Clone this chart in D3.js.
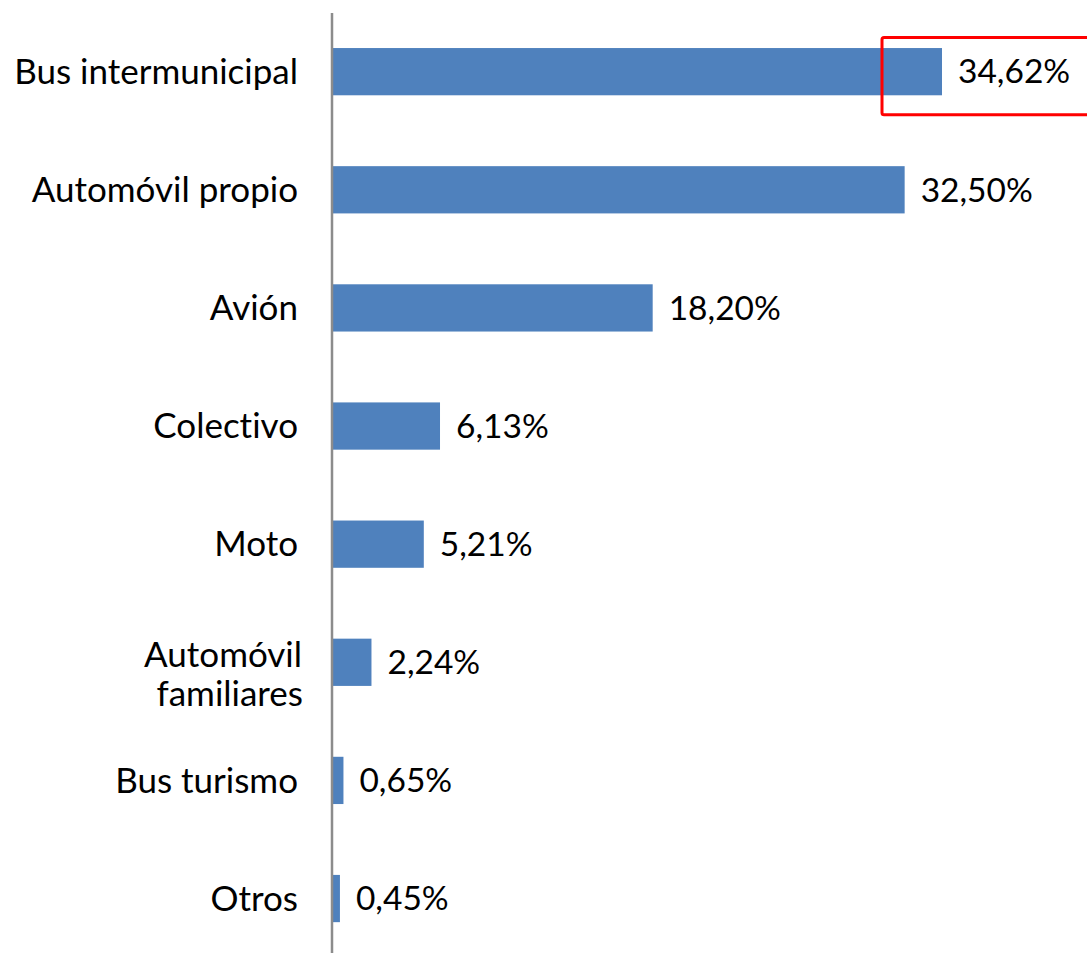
<!DOCTYPE html>
<html>
<head>
<meta charset="utf-8">
<script src="https://cdn.jsdelivr.net/npm/d3@7"></script>
<style>
	html, body { margin: 0; padding: 0; background: #fff; }
	svg { display: block; font-family: Lato, "Open Sans", sans-serif; font-variant-ligatures: none; }
</style>
</head>
<body>
<svg id="chart" width="1087" height="953"></svg>
<script>
const categories = [
	['Bus intermunicipal'],
	['Automóvil propio'],
	['Avión'],
	['Colectivo'],
	['Moto'],
	['Automóvil', 'familiares'],
	['Bus turismo'],
	['Otros']
];
const values = [34.62, 32.5, 18.2, 6.13, 5.21, 2.24, 0.65, 0.45];
const valueLabels = ['34,62%', '32,50%', '18,20%', '6,13%', '5,21%', '2,24%', '0,65%', '0,45%'];

const WIDTH = 1087;
const HEIGHT = 953;
const AXIS_X = 332;
const BAR_COLOR = '#4f81bd';
const CAT_SIZE = 35;
const VAL_SIZE = 33.5;
const LINE_H = 39;

const svg = d3.select('#chart');
const keys = categories.map(c => c.join(' '));

const x = d3.scaleLinear().domain([0, 40]).range([AXIS_X, AXIS_X + 40 * 17.62]);
const y = d3.scaleBand().domain(keys).range([12.6, 957.6]).paddingInner(0.6).paddingOuter(0.3);

const rows = keys.map((k, i) => ({ key: k, lines: categories[i], value: values[i], label: valueLabels[i] }));

// bars
svg.selectAll('rect.bar')
	.data(rows)
	.enter()
	.append('rect')
	.attr('class', 'bar')
	.attr('x', x(0))
	.attr('y', d => y(d.key))
	.attr('width', d => x(d.value) - x(0))
	.attr('height', y.bandwidth())
	.attr('fill', BAR_COLOR);

// value labels
svg.selectAll('text.value')
	.data(rows)
	.enter()
	.append('text')
	.attr('class', 'value')
	.attr('x', d => x(d.value) + 16)
	.attr('y', d => y(d.key) + y.bandwidth() / 2)
	.attr('dy', '0.35em')
	.attr('font-size', VAL_SIZE)
	.attr('fill', '#000')
	.text(d => d.label);

// category labels
svg.selectAll('text.cat')
	.data(rows)
	.enter()
	.append('text')
	.attr('class', 'cat')
	.attr('text-anchor', 'end')
	.attr('font-size', CAT_SIZE)
	.attr('fill', '#000')
	.each((d, i, n) => {
		const t = d3.select(n[i]);
		const cy = y(d.key) + y.bandwidth() / 2;
		if (d.lines.length === 1) {
			t.append('tspan').attr('x', 298).attr('y', cy).attr('dy', '0.35em').text(d.lines[0]);
		} else {
			d.lines.forEach((l, j) => {
				t.append('tspan')
					.attr('x', j === 0 ? 302 : 303)
					.attr('y', cy + 5 + LINE_H * j)
					.text(l);
			});
		}
	});

// vertical axis line
svg.append('line')
	.attr('x1', AXIS_X).attr('x2', AXIS_X)
	.attr('y1', 13).attr('y2', HEIGHT)
	.attr('stroke', '#8c8c8c')
	.attr('stroke-width', 2.5);

// highlight box around the top value
const first = rows[0];
svg.append('rect')
	.attr('x', x(first.value) - 60)
	.attr('y', y(first.key) - 10.5)
	.attr('width', 230)
	.attr('height', y.bandwidth() + 30)
	.attr('rx', 2)
	.attr('fill', 'none')
	.attr('stroke', '#ff0000')
	.attr('stroke-width', 3);
</script>
</body>
</html>
